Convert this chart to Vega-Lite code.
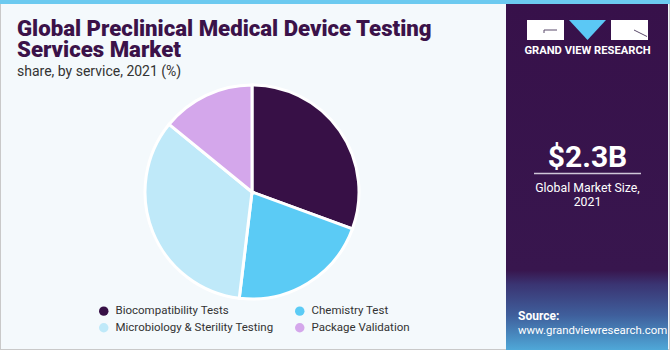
{
  "$schema": "https://vega.github.io/schema/vega-lite/v6.json",
  "width": 670,
  "height": 350,
  "padding": 0,
  "autosize": {"type": "none"},
  "background": "#ffffff",
  "config": {"view": {"stroke": null}, "font": "Roboto"},
  "layer": [
    {
      "data": {"values": [{}]},
      "mark": {"type": "rect", "fill": "#f4f9fc", "stroke": "#c9c9c9", "strokeWidth": 2},
      "encoding": {
        "x": {"datum": 0, "type": "quantitative", "scale": {"domain": [0, 670], "nice": false, "zero": false}, "axis": null},
        "x2": {"datum": 670},
        "y": {"datum": 0, "type": "quantitative", "scale": {"domain": [0, 350], "nice": false, "zero": false, "reverse": true}, "axis": null},
        "y2": {"datum": 350}
      }
    },
    {
      "data": {"values": [{}]},
      "mark": {"type": "rect", "fill": "#6ccaf0"},
      "encoding": {"x": {"datum": 0, "type": "quantitative"}, "x2": {"datum": 670}, "y": {"datum": 0, "type": "quantitative"}, "y2": {"datum": 4}}
    },
    {
      "data": {"values": [{}]},
      "mark": {"type": "rect", "fill": {"gradient": "linear", "x1": 0, "y1": 0, "x2": 0, "y2": 1, "stops": [{"offset": 0, "color": "#37114a"}, {"offset": 0.77, "color": "#38164e"}, {"offset": 0.81, "color": "#3a3472"}, {"offset": 0.9, "color": "#3f5f9c"}, {"offset": 1, "color": "#4fa8d8"}]}},
      "encoding": {"x": {"datum": 506, "type": "quantitative"}, "x2": {"datum": 668}, "y": {"datum": 4, "type": "quantitative"}, "y2": {"datum": 350}}
    },
    {
      "data": {"values": [{}]},
      "mark": {"type": "rule", "stroke": "#ffffff", "strokeWidth": 20, "strokeCap": "butt", "opacity": 1},
      "encoding": {"x": {"datum": 527, "type": "quantitative"}, "x2": {"datum": 564}, "y": {"datum": 30, "type": "quantitative"}, "y2": {"datum": 30}}
    },
    {
      "data": {"values": [{}]},
      "mark": {"type": "rule", "stroke": "#ffffff", "strokeWidth": 20, "strokeCap": "butt", "opacity": 1},
      "encoding": {"x": {"datum": 611, "type": "quantitative"}, "x2": {"datum": 648}, "y": {"datum": 30, "type": "quantitative"}, "y2": {"datum": 30}}
    },
    {
      "data": {"values": [{}]},
      "mark": {"type": "point", "shape": "M-1,-0.54L1,-0.54L0,0.54Z", "size": 1369, "filled": true, "fill": "#5bc8f5", "opacity": 1, "strokeWidth": 0},
      "encoding": {"x": {"datum": 587.5, "type": "quantitative"}, "y": {"datum": 30, "type": "quantitative"}}
    },
    {
      "data": {"values": [{}]},
      "mark": {"type": "rule", "stroke": "#5a4a6a", "strokeWidth": 1},
      "encoding": {"x": {"datum": 544, "type": "quantitative"}, "x2": {"datum": 557}, "y": {"datum": 30, "type": "quantitative"}, "y2": {"datum": 30}}
    },
    {
      "data": {"values": [{}]},
      "mark": {"type": "rule", "stroke": "#5a4a6a", "strokeWidth": 1},
      "encoding": {"x": {"datum": 544, "type": "quantitative"}, "x2": {"datum": 544}, "y": {"datum": 30, "type": "quantitative"}, "y2": {"datum": 33}}
    },
    {
      "data": {"values": [{}]},
      "mark": {"type": "rule", "stroke": "#5a4a6a", "strokeWidth": 1},
      "encoding": {"x": {"datum": 634, "type": "quantitative"}, "x2": {"datum": 647}, "y": {"datum": 30, "type": "quantitative"}, "y2": {"datum": 36.5}}
    },
    {
      "data": {"values": [{}]},
      "mark": {"type": "text", "text": "GRAND VIEW RESEARCH", "fontSize": 11.2, "fontWeight": "bold", "fill": "#ffffff", "align": "center", "baseline": "alphabetic"},
      "encoding": {"x": {"datum": 587.5, "type": "quantitative"}, "y": {"datum": 53.5, "type": "quantitative"}}
    },
    {
      "data": {"values": [{}]},
      "mark": {"type": "text", "text": "$2.3B", "fontSize": 30, "fontWeight": "bold", "fill": "#ffffff", "align": "center", "baseline": "alphabetic"},
      "encoding": {"x": {"datum": 587.5, "type": "quantitative"}, "y": {"datum": 167, "type": "quantitative"}}
    },
    {
      "data": {"values": [{}]},
      "mark": {"type": "rule", "stroke": "#cfc6d8", "strokeWidth": 1.5},
      "encoding": {"x": {"datum": 534, "type": "quantitative"}, "x2": {"datum": 641}, "y": {"datum": 173.5, "type": "quantitative"}, "y2": {"datum": 173.5}}
    },
    {
      "data": {"values": [{}]},
      "mark": {"type": "text", "text": "Global Market Size,", "fontSize": 12.3, "fill": "#ffffff", "align": "center", "baseline": "alphabetic"},
      "encoding": {"x": {"datum": 587.5, "type": "quantitative"}, "y": {"datum": 191.5, "type": "quantitative"}}
    },
    {
      "data": {"values": [{}]},
      "mark": {"type": "text", "text": "2021", "fontSize": 12.3, "fill": "#ffffff", "align": "center", "baseline": "alphabetic"},
      "encoding": {"x": {"datum": 587.5, "type": "quantitative"}, "y": {"datum": 205.5, "type": "quantitative"}}
    },
    {
      "data": {"values": [{}]},
      "mark": {"type": "text", "text": "Source:", "fontSize": 12, "fontWeight": "bold", "fill": "#ffffff", "align": "left", "baseline": "alphabetic"},
      "encoding": {"x": {"datum": 518, "type": "quantitative"}, "y": {"datum": 319.5, "type": "quantitative"}}
    },
    {
      "data": {"values": [{}]},
      "mark": {"type": "text", "text": "www.grandviewresearch.com", "fontSize": 11.4, "fill": "#ffffff", "align": "left", "baseline": "alphabetic"},
      "encoding": {"x": {"datum": 518, "type": "quantitative"}, "y": {"datum": 333.5, "type": "quantitative"}}
    },
    {
      "data": {"values": [{}]},
      "mark": {"type": "text", "text": "Global Preclinical Medical Device Testing", "fontSize": 22.2, "fontWeight": 900, "fill": "#3b1249", "align": "left", "baseline": "alphabetic"},
      "encoding": {"x": {"datum": 17, "type": "quantitative"}, "y": {"datum": 35.5, "type": "quantitative"}}
    },
    {
      "data": {"values": [{}]},
      "mark": {"type": "text", "text": "Services Market", "fontSize": 22.2, "fontWeight": 900, "fill": "#3b1249", "align": "left", "baseline": "alphabetic"},
      "encoding": {"x": {"datum": 17, "type": "quantitative"}, "y": {"datum": 57, "type": "quantitative"}}
    },
    {
      "data": {"values": [{}]},
      "mark": {"type": "text", "text": "share, by service, 2021 (%)", "fontSize": 14, "fill": "#333333", "align": "left", "baseline": "alphabetic"},
      "encoding": {"x": {"datum": 17, "type": "quantitative"}, "y": {"datum": 75.5, "type": "quantitative"}}
    },
    {
      "data": {"values": [
        {"service": "Biocompatibility Tests", "share": 30.6},
        {"service": "Chemistry Test", "share": 21.3},
        {"service": "Microbiology & Sterility Testing", "share": 34.0},
        {"service": "Package Validation", "share": 14.1}
      ]},
      "mark": {"type": "arc", "outerRadius": 107, "stroke": "#ffffff", "strokeWidth": 3},
      "encoding": {
        "theta": {"field": "share", "type": "quantitative", "stack": true},
        "color": {
          "field": "service",
          "type": "nominal",
          "scale": {"domain": ["Biocompatibility Tests", "Chemistry Test", "Microbiology & Sterility Testing", "Package Validation"], "range": ["#371046", "#5bcbf5", "#bfe9f9", "#d4a7eb"]},
          "legend": {"title": null, "orient": "none", "legendX": 98, "legendY": 305, "columns": 2, "direction": "horizontal", "symbolType": "circle", "symbolSize": 90, "symbolStrokeWidth": 0, "labelFontSize": 11.5, "labelColor": "#333333", "labelFont": "Roboto", "columnPadding": 20, "rowPadding": 4, "labelLimit": 300, "labelOffset": 6}
        },
        "x": {"datum": 252, "type": "quantitative"},
        "y": {"datum": 192, "type": "quantitative"}
      }
    }
  ]
}
